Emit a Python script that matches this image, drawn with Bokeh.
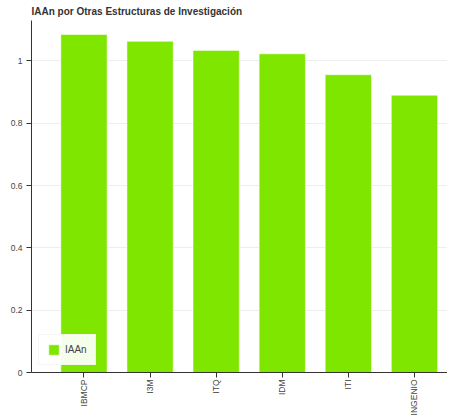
from bokeh.plotting import figure
from bokeh.models import Range1d, FixedTicker, NumeralTickFormatter, ColumnDataSource, Legend, LegendItem
from bokeh.embed import file_html
from bokeh.resources import INLINE

categories = ["IBMCP", "I3M", "ITQ", "IDM", "ITI", "INGENIO"]
iaan = [1.085, 1.063, 1.034, 1.023, 0.956, 0.890]
series_name = "IAAn"
title_text = "IAAn por Otras Estructuras de Investigación"
y_ticks = [0, 0.2, 0.4, 0.6, 0.8, 1.0]

positions = list(range(len(categories)))
src = ColumnDataSource(dict(x=positions, top=iaan, cat=categories))

p = figure(width=447, height=418, output_backend="svg", toolbar_location=None,
           x_range=Range1d(-0.794, len(categories) - 0.5),
           y_range=Range1d(0, 1.13),
           min_border_left=31, min_border_right=0, min_border_top=0, min_border_bottom=0)

p.title.text = title_text
p.title.text_font = "Liberation Sans"
p.title.text_font_size = "10px"
p.title.text_font_style = "bold"
p.title.text_color = "#333333"
p.title.standoff = 7

r = p.vbar(x="x", top="top", width=0.7, source=src,
           fill_color="#7fe600", line_color="white", line_alpha=0.5, line_width=1)

p.outline_line_color = None
p.xgrid.grid_line_color = None
p.ygrid.grid_line_color = "#eeeeee"
p.ygrid.ticker = FixedTicker(ticks=y_ticks)

p.yaxis.ticker = FixedTicker(ticks=y_ticks)
p.yaxis.formatter = NumeralTickFormatter(format="0.[0]")
p.xaxis.ticker = FixedTicker(ticks=positions)
p.xaxis.major_label_overrides = {i: c for i, c in zip(positions, categories)}
p.xaxis.major_label_orientation = 1.5708

for ax in (p.xaxis, p.yaxis):
    ax.axis_line_color = "#333333"
    ax.major_tick_line_color = "#333333"
    ax.minor_tick_line_color = None
    ax.major_tick_in = 0
    ax.major_tick_out = 5
    ax.major_label_text_font = "Liberation Sans"
    ax.major_label_text_font_size = "8.5px"
    ax.major_label_text_color = "#444444"
    ax.major_label_standoff = 4
p.xaxis.major_label_standoff = 2

legend = Legend(items=[LegendItem(label=series_name, renderers=[r])], location="bottom_left")
legend.margin = 7
legend.padding = 8
legend.glyph_width = 13
legend.glyph_height = 13
legend.label_standoff = 5
legend.label_text_font = "Liberation Sans"
legend.label_text_font_size = "10px"
legend.label_text_color = "#444444"
legend.border_line_color = "#eeeeee"
legend.background_fill_alpha = 0.92
p.add_layout(legend)

open("out.html", "w").write(file_html(p, INLINE))
